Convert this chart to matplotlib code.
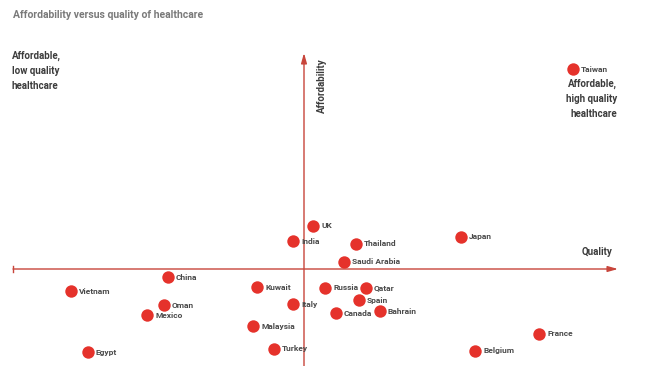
import matplotlib
matplotlib.use("Agg")
import matplotlib.pyplot as plt

plt.rcParams['font.family'] = ['Roboto', 'DejaVu Sans']

# quality (x) and affordability (y), arbitrary units, origin at the axis crossing
countries = ["Taiwan", "UK", "India", "Thailand", "Japan", "Saudi Arabia",
             "China", "Vietnam", "Kuwait", "Russia", "Qatar", "Oman", "Italy",
             "Spain", "Mexico", "Canada", "Bahrain", "Malaysia", "France",
             "Egypt", "Turkey", "Belgium"]
quality = [269, 9, -11, 52, 157, 40, -136, -233, -47, 21, 62, -140, -11,
           55, -157, 32, 76, -51, 235, -216, -30, 171]
affordability = [200, 43, 28, 25, 32, 7, -8, -22, -18, -19, -19, -36, -35,
                 -31, -46, -44, -42, -57, -65, -83, -80, -82]

RED = "#e5322b"
AXIS = "#c8453b"
DARK = "#3c3c3c"
LABEL = "#4a4a4a"

fig = plt.figure(figsize=(6.5, 3.66), dpi=100)
ax = fig.add_axes([0, 0, 1, 1])
ax.set_xlim(-304, 346)
ax.set_ylim(-97, 269)
ax.axis("off")

# axes arrows
arrow = dict(arrowstyle="-|>,head_length=0.6,head_width=0.17",
             color=AXIS, lw=1.0, shrinkA=0, shrinkB=0)
ax.annotate("", xy=(314, 0), xytext=(-291, 0), arrowprops=arrow)
ax.plot([-291, -291], [-3, 3], color=AXIS, lw=1)
ax.annotate("", xy=(0, 216), xytext=(0, -97), arrowprops=arrow)

ax.scatter(quality, affordability, s=80, color=RED, zorder=3, linewidths=0)
for name, q, a in zip(countries, quality, affordability):
    ax.text(q + 8, a, name, fontsize=6, fontweight="bold", color=LABEL,
            va="center", ha="left", zorder=4)

ax.text(293, 17, "Quality", fontsize=7, fontweight="bold", color=DARK,
        ha="center", va="center")
ax.text(18, 183, "Affordability", fontsize=7, fontweight="bold", color=DARK,
        rotation=90, ha="center", va="center")

ax.text(-292, 198, "Affordable,\nlow quality\nhealthcare", fontsize=7,
        fontweight="bold", color=DARK, ha="left", va="center", linespacing=1.6)
ax.text(313, 170, "Affordable,\nhigh quality\nhealthcare", fontsize=7,
        fontweight="bold", color=DARK, ha="right", va="center", linespacing=1.6)

fig.text(0.02, 0.96, "Affordability versus quality of healthcare", fontsize=7.5,
         fontweight="bold", color="#7a7a7a", ha="left", va="center")

fig.savefig("out.png", dpi=100, facecolor="white")
